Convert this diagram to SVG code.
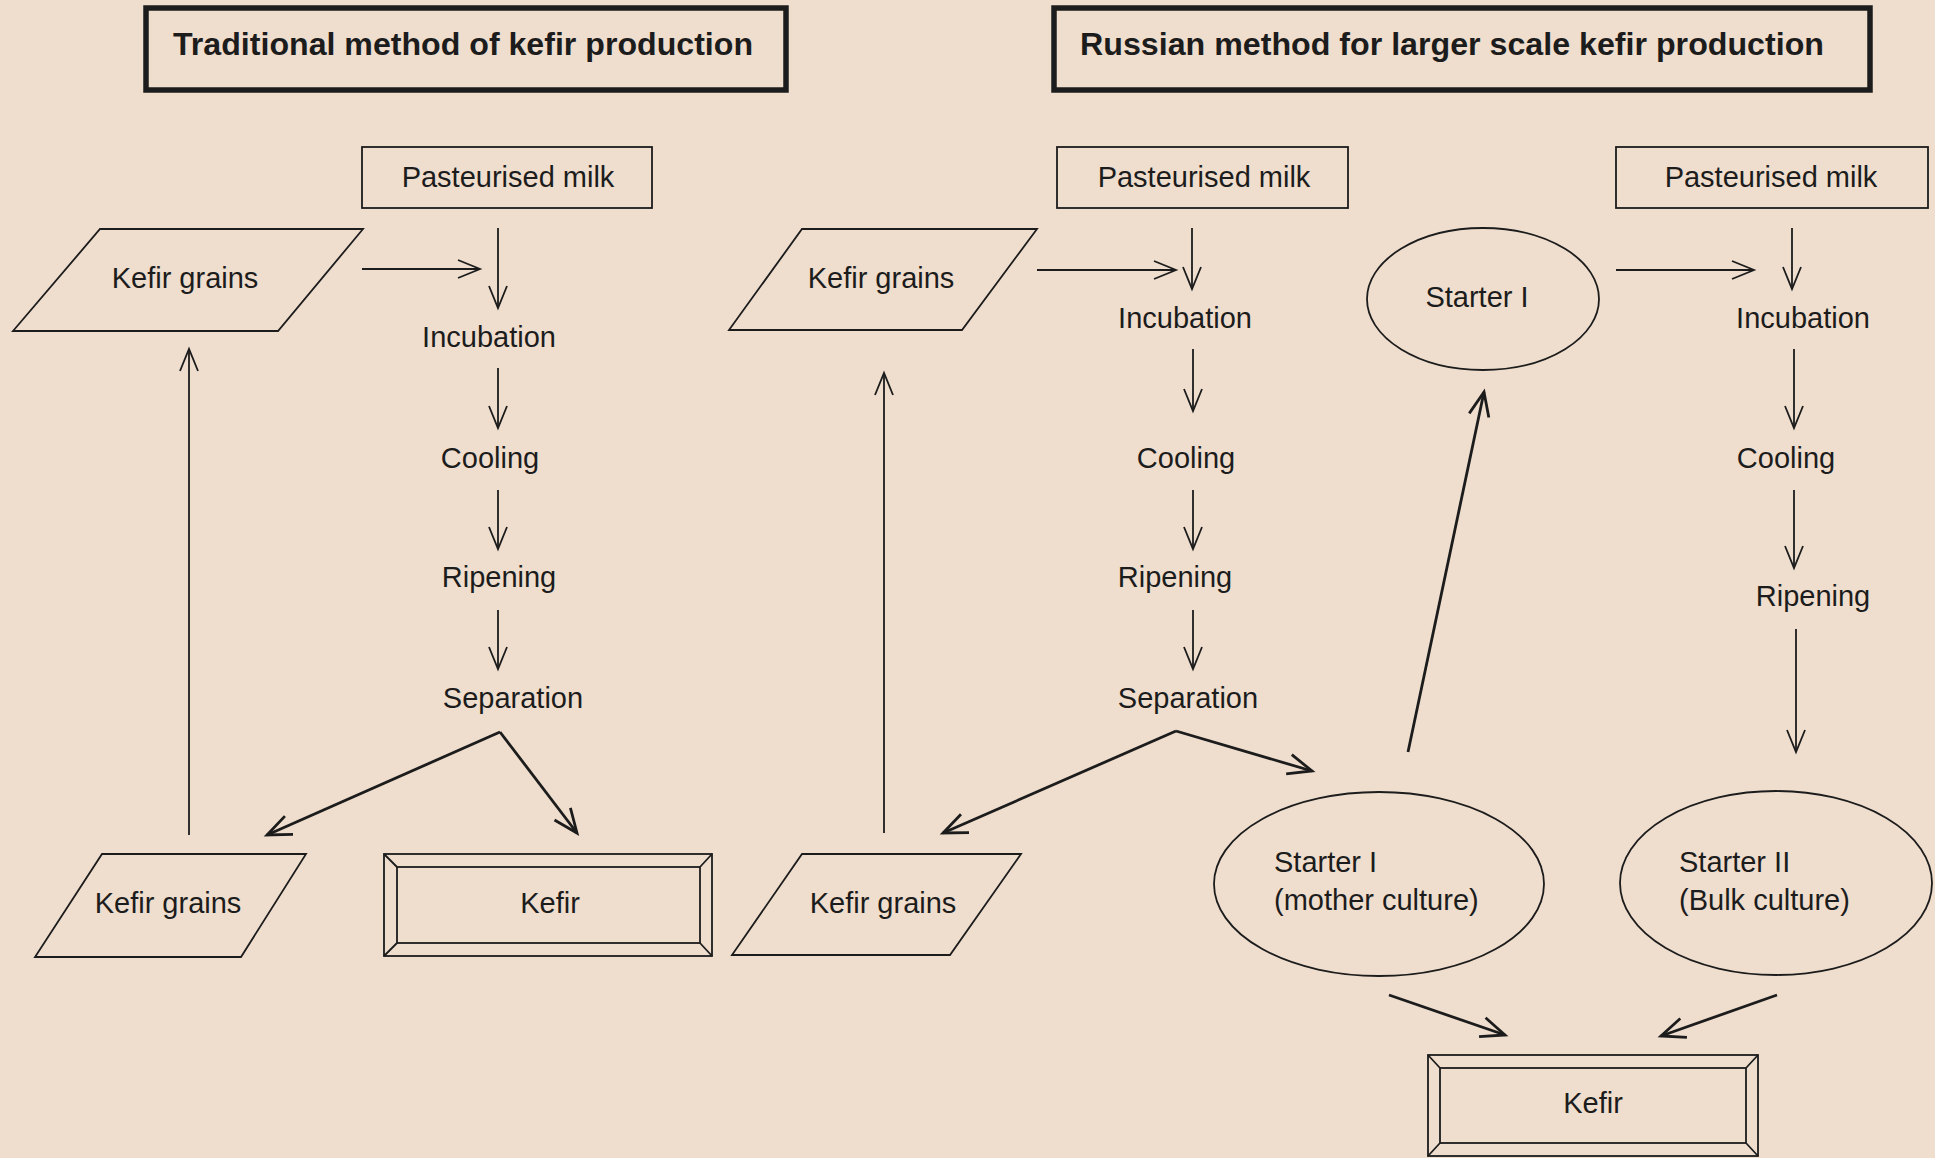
<svg xmlns="http://www.w3.org/2000/svg" width="1935" height="1158" viewBox="0 0 1935 1158">
<style>
.bg{fill:#EFDECE}
.shape{fill:none;stroke:#1c1c1c;stroke-width:1.8}
.title{fill:none;stroke:#1c1c1c;stroke-width:5.5}
.t{font-family:"Liberation Sans",Arial,sans-serif;font-size:29px;fill:#1c1c1c}
.tc{text-anchor:middle}
.tb{font-family:"Liberation Sans",Arial,sans-serif;font-size:32px;font-weight:bold;fill:#1c1c1c}
.c{fill:none;stroke:#1c1c1c;stroke-width:1.8;marker-end:url(#a)}
.ck{fill:none;stroke:#1c1c1c;stroke-width:2.8;marker-end:url(#ak)}
</style>
<defs>
<marker id="a" markerUnits="userSpaceOnUse" orient="auto" refX="0" refY="0" markerWidth="40" markerHeight="40" overflow="visible">
<path d="M-22,-9 L0,0 L-22,9" fill="none" stroke="#1c1c1c" stroke-width="1.8"/>
</marker>
<marker id="ak" markerUnits="userSpaceOnUse" orient="auto" refX="0" refY="0" markerWidth="40" markerHeight="40" overflow="visible">
<path d="M-24,-10 L0,0 L-24,10" fill="none" stroke="#1c1c1c" stroke-width="2.8"/>
</marker>
</defs>
<rect class="bg" x="0" y="0" width="1935" height="1158"/>

<g id="title-traditional">
<rect class="title" x="146" y="8" width="640" height="82"/>
<text class="tb" x="173" y="55" textLength="580" lengthAdjust="spacingAndGlyphs">Traditional method of kefir production</text>
</g>
<g id="title-russian">
<rect class="title" x="1054" y="8" width="816" height="82"/>
<text class="tb" x="1080" y="55" textLength="744" lengthAdjust="spacingAndGlyphs">Russian method for larger scale kefir production</text>
</g>

<!-- Traditional -->
<g id="milk-1"><rect class="shape" x="362" y="147" width="290" height="61"/><text class="t tc" x="508" y="187">Pasteurised milk</text></g>
<g id="grains-1"><polygon class="shape" points="100,229 363,229 278,331 13,331"/><text class="t tc" x="185" y="288">Kefir grains</text></g>
<g id="incubation-1"><text class="t tc" x="489" y="347">Incubation</text></g>
<g id="cooling-1"><text class="t tc" x="490" y="468">Cooling</text></g>
<g id="ripening-1"><text class="t tc" x="499" y="587">Ripening</text></g>
<g id="separation-1"><text class="t tc" x="513" y="708">Separation</text></g>
<g id="grains-1b"><polygon class="shape" points="102,854 306,854 241,957 35,957"/><text class="t tc" x="168" y="913">Kefir grains</text></g>
<g id="kefir-1"><rect class="shape" x="384" y="854" width="328" height="102"/><rect class="shape" x="397" y="867" width="303" height="76"/><path class="shape" d="M384,854 L397,867 M712,854 L700,867 M384,956 L397,943 M712,956 L700,943"/><text class="t tc" x="550" y="913">Kefir</text></g>

<!-- Russian, kefir grains -->
<g id="milk-2"><rect class="shape" x="1057" y="147" width="291" height="61"/><text class="t tc" x="1204" y="187">Pasteurised milk</text></g>
<g id="grains-2"><polygon class="shape" points="802,229 1037,229 962,330 729,330"/><text class="t tc" x="881" y="288">Kefir grains</text></g>
<g id="incubation-2"><text class="t tc" x="1185" y="328">Incubation</text></g>
<g id="cooling-2"><text class="t tc" x="1186" y="468">Cooling</text></g>
<g id="ripening-2"><text class="t tc" x="1175" y="587">Ripening</text></g>
<g id="separation-2"><text class="t tc" x="1188" y="708">Separation</text></g>
<g id="grains-2b"><polygon class="shape" points="802,854 1021,854 950,955 732,955"/><text class="t tc" x="883" y="913">Kefir grains</text></g>

<!-- Russian, starter -->
<g id="starter-1"><ellipse class="shape" cx="1483" cy="299" rx="116" ry="71"/><text class="t tc" x="1477" y="307">Starter I</text></g>
<g id="milk-3"><rect class="shape" x="1616" y="147" width="312" height="61"/><text class="t tc" x="1771" y="187">Pasteurised milk</text></g>
<g id="incubation-3"><text class="t tc" x="1803" y="328">Incubation</text></g>
<g id="cooling-3"><text class="t tc" x="1786" y="468">Cooling</text></g>
<g id="ripening-3"><text class="t tc" x="1813" y="606">Ripening</text></g>
<g id="starter-mother"><ellipse class="shape" cx="1379" cy="884" rx="165" ry="92"/><text class="t" x="1274" y="872">Starter I</text><text class="t" x="1274" y="910">(mother culture)</text></g>
<g id="starter-bulk"><ellipse class="shape" cx="1776" cy="883" rx="156" ry="92"/><text class="t" x="1679" y="872">Starter II</text><text class="t" x="1679" y="910">(Bulk culture)</text></g>
<g id="kefir-2"><rect class="shape" x="1428" y="1055" width="330" height="101"/><rect class="shape" x="1440" y="1068" width="306" height="75"/><path class="shape" d="M1428,1055 L1440,1068 M1758,1055 L1746,1068 M1428,1156 L1440,1143 M1758,1156 L1746,1143"/><text class="t tc" x="1593" y="1113">Kefir</text></g>

<g id="connectors">
<path class="c" d="M362,269 L480,269"/>
<path class="c" d="M498,228 L498,308"/>
<path class="c" d="M498,368 L498,428"/>
<path class="c" d="M498,490 L498,549"/>
<path class="c" d="M498,610 L498,669"/>
<path class="ck" d="M500,732 L267,835"/>
<path class="ck" d="M500,732 L577,833"/>
<path class="c" d="M189,835 L189,349"/>

<path class="c" d="M1037,270 L1176,270"/>
<path class="c" d="M1192,228 L1192,289"/>
<path class="c" d="M1193,349 L1193,411"/>
<path class="c" d="M1193,490 L1193,549"/>
<path class="c" d="M1193,610 L1193,669"/>
<path class="ck" d="M1176,731 L943,833"/>
<path class="ck" d="M1176,731 L1312,771"/>
<path class="c" d="M884,833 L884,373"/>

<path class="c" d="M1616,270 L1754,270"/>
<path class="c" d="M1792,228 L1792,289"/>
<path class="c" d="M1794,349 L1794,428"/>
<path class="c" d="M1794,490 L1794,568"/>
<path class="c" d="M1796,629 L1796,752"/>
<path class="ck" d="M1408,752 L1484,392"/>
<path class="ck" d="M1389,995 L1505,1035"/>
<path class="ck" d="M1777,995 L1661,1036"/>
</g>
</svg>
